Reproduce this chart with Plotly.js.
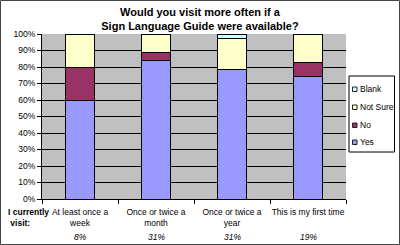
<!DOCTYPE html>
<html><head><meta charset="utf-8">
<script src="https://cdn.plot.ly/plotly-3.0.1.min.js"></script>
<style>html,body{margin:0;padding:0;background:#fff}</style>
</head><body><div id="c"></div>
<script>
const categories = ["At least once a<br>week", "Once or twice a<br>month", "Once or twice a<br>year", "This is my first time"];
const shares = ["8%", "31%", "31%", "19%"];
const seriesNames = ["Yes", "No", "Not Sure", "Blank"];
const yes = [60, 84, 78.5, 74];
const no = [20, 5, 0, 9];
const notSure = [20, 11, 19, 17];
const blank = [0, 0, 2.5, 0];
const colors = ['#9999FF', '#993366', '#FFFFCC', '#CCFFFF'];

const W = 400, H = 245, L = 42, R = 54, T = 34, B = 46;
const PW = W - L - R, PH = H - T - B;
const px = v => (v - L) / PW;
const py = v => (H - B - v) / PH;

const series = [yes, no, notSure, blank];
const data = series.map((y, i) => ({type:'bar', name:seriesNames[i], x:categories, y, marker:{color:colors[i], line:{color:'#000', width:1}}, hoverinfo:'skip'}));

const font = {family:'Liberation Sans, Arial, sans-serif', size:8.5, color:'#000'};
const legFont = {family:'Liberation Sans, Arial, sans-serif', size:8.5, color:'#000'};
const annotations = categories.map((c,i)=>({x:c, xref:'x', y:py(237), yref:'paper', text:'<i>'+shares[i]+'</i>', showarrow:false, font:font, yanchor:'middle'}));
annotations.push({xref:'paper', yref:'paper', x:px(6), y:py(217), text:'<b>I currently<br> visit:</b>', showarrow:false, font:font, yanchor:'middle', xanchor:'left', align:'left'});

const shapes = [
  {type:'rect', xref:'paper', yref:'paper', x0:px(0.5), x1:px(399.5), y0:py(244.5), y1:py(0.5), line:{color:'#444', width:1}},
  {type:'rect', xref:'paper', yref:'paper', x0:px(349), x1:px(394.5), y0:py(152), y1:py(76), line:{color:'#000', width:1}, fillcolor:'#fff'}
];
const legY = [142, 125, 107, 89];
seriesNames.forEach((n, i) => {
  shapes.push({type:'rect', xref:'paper', yref:'paper', x0:px(352.5), x1:px(357), y0:py(legY[i]+2.5), y1:py(legY[i]-2), line:{color:'#222', width:1}, fillcolor:colors[i]});
  annotations.push({xref:'paper', yref:'paper', x:px(358), y:py(legY[i]), text:n, showarrow:false, font:legFont, xanchor:'left', yanchor:'middle'});
});

const layout = {
  width:W, height:H,
  margin:{l:L, r:R, t:T, b:B},
  paper_bgcolor:'#fff', plot_bgcolor:'#C0C0C0',
  font:font,
  title:{text:'<b>Would you visit more often if a<br>Sign Language Guide were available?</b>', font:{family:'Liberation Sans, Arial, sans-serif', size:11, color:'#000'}, x:0.5, xref:'container', xanchor:'center', y:1-15.5/H, yref:'container', yanchor:'middle'},
  barmode:'stack', bargap:0.62,
  xaxis:{type:'category', tickson:'boundaries', ticks:'outside', ticklen:4, tickcolor:'#000', showline:true, linecolor:'#000', linewidth:1, showgrid:false, tickfont:font, tickangle:0, ticklabelstandoff:5, automargin:false},
  yaxis:{range:[0,100], dtick:10, ticksuffix:'%', ticks:'outside', ticklen:4, tickcolor:'#000', showline:true, linecolor:'#000', gridcolor:'#000', gridwidth:1, tickfont:font, zeroline:false, automargin:false},
  showlegend:false,
  annotations, shapes
};
Plotly.newPlot('c', data, layout, {staticPlot:true});
</script></body></html>
